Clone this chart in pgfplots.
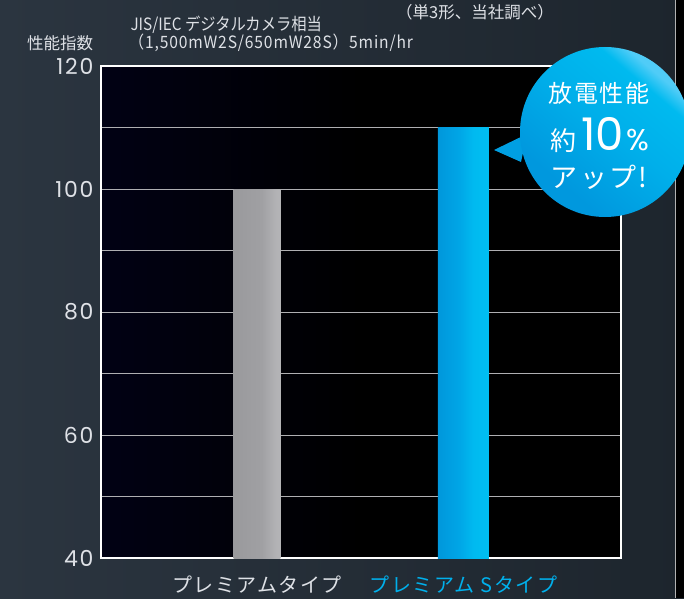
\documentclass[border=0pt]{standalone}
\usepackage{fontspec}
\usepackage{pgfplots}
\pgfplotsset{compat=1.18}
\setmainfont{Noto Sans CJK JP}
\newfontfamily\jpc[FakeStretch=0.9]{Noto Sans CJK JP}
\newfontfamily\jpcw[FakeStretch=0.92, LetterSpace=5]{Noto Sans CJK JP}
\newfontfamily\jpw[LetterSpace=8]{Noto Sans CJK JP}
\newfontfamily\numfont[LetterSpace=8]{Poppins}
\newfontfamily\bignum{Poppins}

\definecolor{pagebgl}{RGB}{43,53,64}
\definecolor{pagebgr}{RGB}{29,37,45}
\definecolor{navy}{RGB}{2,2,40}
\definecolor{gridc}{RGB}{175,175,178}
\definecolor{sblue}{RGB}{0,176,236}
\definecolor{txt}{RGB}{222,225,230}
\definecolor{ga}{RGB}{148,148,151}
\definecolor{gb}{RGB}{160,160,163}
\definecolor{gc}{RGB}{178,178,181}
\definecolor{gd}{RGB}{190,190,192}
\definecolor{ba}{RGB}{0,134,206}
\definecolor{bb}{RGB}{0,165,230}
\definecolor{bc}{RGB}{0,186,240}
\definecolor{bd}{RGB}{0,192,242}
\definecolor{be}{RGB}{130,215,245}
\definecolor{bf}{RGB}{195,236,250}
\definecolor{ua}{RGB}{0,152,222}
\definecolor{ub}{RGB}{0,175,234}
\definecolor{uc}{RGB}{0,186,239}
\definecolor{ud}{RGB}{80,204,247}

\pgfdeclarehorizontalshading{plotbg}{100bp}{color(0bp)=(navy); color(50bp)=(black); color(100bp)=(black)}
\pgfdeclarehorizontalshading{grayshade}{100bp}{color(0bp)=(ga); color(55bp)=(gb); color(70bp)=(gc); color(100bp)=(gd)}
\pgfdeclarehorizontalshading{blueshade}{100bp}{color(0bp)=(ba); color(45bp)=(bb); color(60bp)=(bc); color(80bp)=(bd); color(86bp)=(be); color(100bp)=(bf)}
\pgfdeclarehorizontalshading{bubshade}{100bp}{color(0bp)=(ua); color(30bp)=(ua); color(52bp)=(ub); color(68bp)=(uc); color(73bp)=(ud); color(100bp)=(ud)}

\begin{document}
\begin{tikzpicture}[x=1pt,y=1pt]
\useasboundingbox (0,0) rectangle (684,598);
\shade[left color=pagebgl, right color=pagebgr] (0,0) rectangle (684,598);
\fill[black] (676,0) rectangle (684,598);
\draw[gray!60, line width=1pt] (675.5,0) -- (675.5,598);

\begin{axis}[
  at={(101pt,40pt)}, anchor=south west,
  scale only axis, width=520pt, height=492pt,
  xmin=0, xmax=1, ymin=40, ymax=120,
  ytick={40,60,80,100,120},
  minor ytick={50,70,90,110},
  ymajorgrids, yminorgrids,
  major grid style={gridc, line width=0.8pt},
  minor grid style={gridc, line width=0.8pt},
  major tick length=0pt, minor tick length=0pt,
  axis line style={white, line width=2.5pt},
  axis background/.style={shading=plotbg},
  xtick={0.3,0.697},
  xticklabels={{\color{txt}プレミアムタイプ}, {\color{sblue}プレミアム Sタイプ}},
  xticklabel style={font=\jpw\fontsize{20}{20}\selectfont, yshift=-14pt},
  yticklabel style={font=\fontsize{22}{22}\selectfont\numfont, text=txt, xshift=-4pt},
  /pgf/number format/assume math mode=true,
]
\addplot[ybar, bar width=0.090, bar shift=0pt, draw=none, shading=grayshade]
  coordinates {(0.3,100)};
\addplot[ybar, bar width=0.098, bar shift=0pt, draw=none, shading=blueshade]
  coordinates {(0.697,110)};
\end{axis}

% titles
\node[text=txt, font=\fontsize{16.5}{16.5}\selectfont] at (60,555) {性能指数};
\node[text=txt, anchor=west, font=\jpc\fontsize{17}{17}\selectfont] at (127,573) {JIS/IEC デジタルカメラ相当};
\node[text=txt, anchor=west, font=\jpcw\fontsize{17}{17}\selectfont] at (125,555) {（1,500mW2S/650mW28S）5min/hr};
\node[text=txt, font=\fontsize{16.5}{16.5}\selectfont] at (475,586) {（単3形、当社調べ）};

% callout
\fill[ua!70!ub] (494,448) -- (527,464) -- (521,436) -- cycle;
\shade[shading=bubshade, shading angle=50] (605,466) circle (85);
\node[white, font=\jpw\fontsize{24}{24}\selectfont] at (599,505) {放電性能};
\node[white] at (600,463) {\fontsize{26}{26}\selectfont 約\hspace{5pt}\bignum\fontsize{45}{45}\selectfont 10\hspace{3pt}\fontsize{30}{30}\selectfont\%};
\node[white, font=\jpw\fontsize{27}{27}\selectfont] at (599,421) {アップ!};
\end{tikzpicture}
\end{document}
